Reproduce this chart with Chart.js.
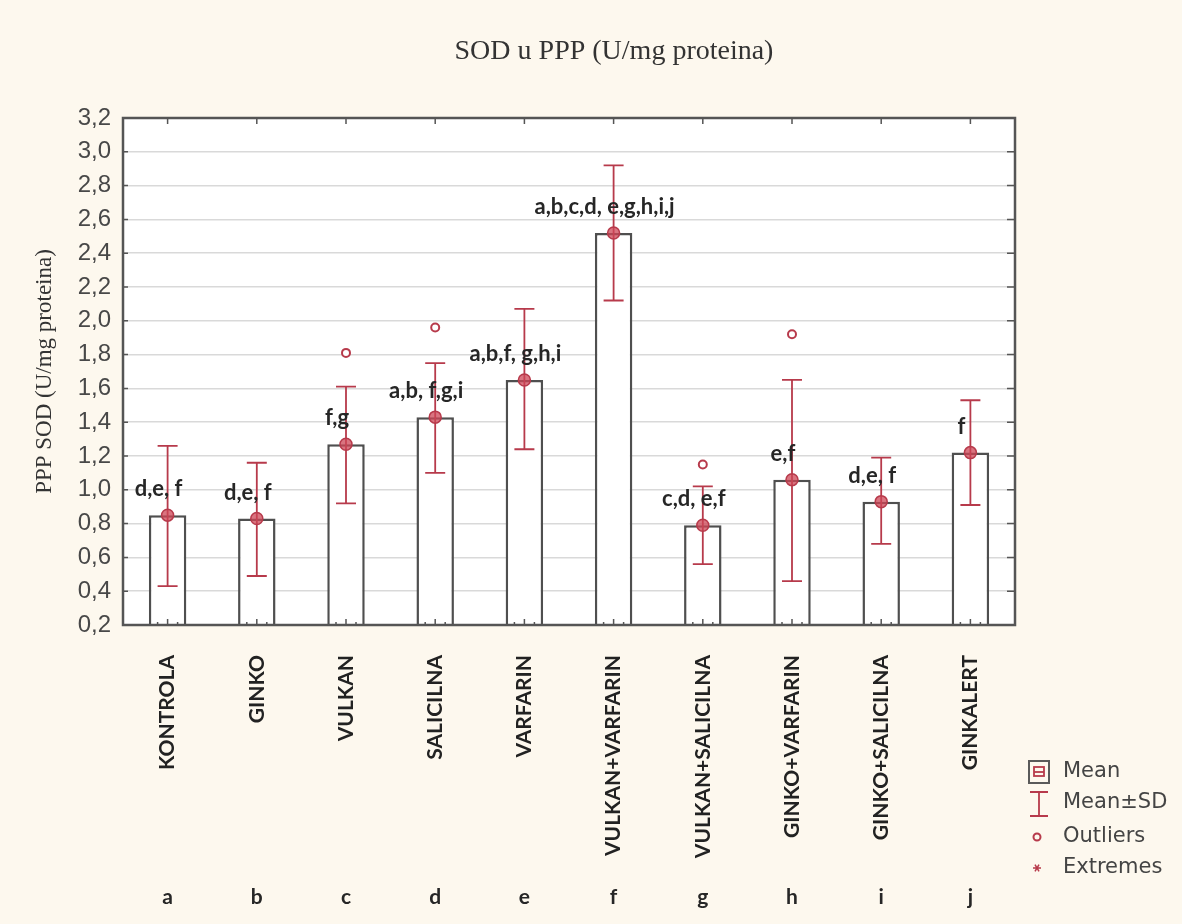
<!DOCTYPE html>
<html>
<head>
<meta charset="utf-8">
<title>SOD u PPP</title>
<script src="https://cdn.jsdelivr.net/npm/chart.js@4.4.1/dist/chart.umd.min.js"></script>
<style>
  html, body { margin: 0; padding: 0; background: #fdf8ee; }
  #wrap { width: 1182px; height: 924px; }
</style>
</head>
<body>
<div id="wrap"><canvas id="sodChart" width="1182" height="924"></canvas></div>
<script>
// data
const categories = ['KONTROLA', 'GINKO', 'VULKAN', 'SALICILNA', 'VARFARIN',
    'VULKAN+VARFARIN', 'VULKAN+SALICILNA', 'GINKO+VARFARIN', 'GINKO+SALICILNA', 'GINKALERT'];
const groupLetters = ['a', 'b', 'c', 'd', 'e', 'f', 'g', 'h', 'i', 'j'];
const means = [0.85, 0.83, 1.27, 1.43, 1.65, 2.52, 0.79, 1.06, 0.93, 1.22];
const sdLow = [0.43, 0.49, 0.92, 1.10, 1.24, 2.12, 0.56, 0.46, 0.68, 0.91];
const sdHigh = [1.26, 1.16, 1.61, 1.75, 2.07, 2.92, 1.02, 1.65, 1.19, 1.53];
const outliers = [null, null, 1.81, 1.96, null, null, 1.15, 1.92, null, null];
const sigLetters = ['d,e, f', 'd,e, f', 'f,g', 'a,b, f,g,i', 'a,b,f, g,h,i',
    'a,b,c,d, e,g,h,i,j', 'c,d, e,f', 'e,f', 'd,e, f', 'f'];
const yTicks = [0.2, 0.4, 0.6, 0.8, 1.0, 1.2, 1.4, 1.6, 1.8, 2.0, 2.2, 2.4, 2.6, 2.8, 3.0, 3.2];

const RED = '#b73a4b';
const DARK = '#4f4f4f';
const BG = '#fdf8ee';

const fmt = v => v.toFixed(1).replace('.', ',');

const sodPlugin = {
    id: 'sodExtras',
    beforeDraw(chart) {
        const { ctx, chartArea: a } = chart;
        ctx.save();
        ctx.fillStyle = BG;
        ctx.fillRect(0, 0, chart.width, chart.height);
        ctx.fillStyle = '#ffffff';
        ctx.fillRect(a.left, a.top, a.right - a.left, a.bottom - a.top);
        ctx.restore();
    },
    afterDatasetsDraw(chart) {
        const { ctx } = chart;
        const xs = chart.scales.x, ys = chart.scales.y;
        ctx.save();
        // mean +- SD whiskers
        ctx.strokeStyle = RED;
        ctx.lineWidth = 1.8;
        means.forEach((m, i) => {
            const x = xs.getPixelForValue(i);
            const yHi = ys.getPixelForValue(sdHigh[i]);
            const yLo = ys.getPixelForValue(sdLow[i]);
            ctx.beginPath();
            ctx.moveTo(x, yHi); ctx.lineTo(x, yLo);
            ctx.moveTo(x - 10, yHi); ctx.lineTo(x + 10, yHi);
            ctx.moveTo(x - 10, yLo); ctx.lineTo(x + 10, yLo);
            ctx.stroke();
        });
        // mean markers
        means.forEach((m, i) => {
            const x = xs.getPixelForValue(i);
            const y = ys.getPixelForValue(m);
            ctx.beginPath();
            ctx.arc(x, y, 6, 0, Math.PI * 2);
            ctx.fillStyle = 'rgba(205, 70, 85, 0.75)';
            ctx.fill();
            ctx.lineWidth = 1.5;
            ctx.strokeStyle = RED;
            ctx.stroke();
        });
        ctx.restore();
    },
    afterDraw(chart) {
        const { ctx, chartArea: a } = chart;
        const xs = chart.scales.x, ys = chart.scales.y;
        ctx.save();

        // frame and inner ticks
        ctx.strokeStyle = '#555555';
        ctx.lineWidth = 2.5;
        ctx.strokeRect(a.left, a.top, a.right - a.left, a.bottom - a.top);
        ctx.lineWidth = 1.5;
        ctx.beginPath();
        yTicks.forEach(v => {
            const y = ys.getPixelForValue(v);
            ctx.moveTo(a.right, y); ctx.lineTo(a.right - 8, y);
            ctx.moveTo(a.left, y); ctx.lineTo(a.left + 5, y);
        });
        categories.forEach((c, i) => {
            const x = xs.getPixelForValue(i);
            ctx.moveTo(x, a.top); ctx.lineTo(x, a.top + 6);
            ctx.moveTo(x, a.bottom); ctx.lineTo(x, a.bottom - 6);
            ctx.moveTo(x - 10, a.bottom); ctx.lineTo(x - 10, a.bottom - 3);
            ctx.moveTo(x + 10, a.bottom); ctx.lineTo(x + 10, a.bottom - 3);
        });
        ctx.stroke();

        // title
        ctx.fillStyle = '#333333';
        ctx.font = '28px "Liberation Serif", "Times New Roman", serif';
        ctx.textAlign = 'center';
        ctx.textBaseline = 'middle';
        ctx.fillText('SOD u PPP (U/mg proteina)', 614, 52);

        // significance letters above the bars
        ctx.font = 'bold 22px Lato, "Open Sans", sans-serif';
        ctx.fillStyle = '#262626';
        sigLetters.forEach((t, i) => {
            const x = xs.getPixelForValue(i) - 9;
            const y = ys.getPixelForValue(means[i]) - 26;
            ctx.fillText(t, x, y);
        });

        // group letters under the category names
        ctx.font = 'bold 21px Lato, "Open Sans", sans-serif';
        groupLetters.forEach((g, i) => {
            ctx.fillText(g, xs.getPixelForValue(i), 897);
        });

        // legend
        const lx = 1039;
        ctx.font = '21px "DejaVu Sans", sans-serif';
        ctx.textAlign = 'left';
        ctx.fillStyle = '#444444';
        ctx.fillText('Mean', 1063, 772);
        ctx.fillText('Mean\u00b1SD', 1063, 803);
        ctx.fillText('Outliers', 1063, 837);
        ctx.fillText('Extremes', 1063, 868);

        ctx.strokeStyle = '#5a5a5a';
        ctx.lineWidth = 2;
        ctx.strokeRect(lx - 10, 761, 20, 22);
        ctx.strokeStyle = RED;
        ctx.lineWidth = 1.8;
        ctx.strokeRect(lx - 5, 767, 10, 9);
        ctx.beginPath();
        ctx.moveTo(lx - 5, 772); ctx.lineTo(lx + 5, 772);
        ctx.stroke();

        ctx.strokeStyle = RED;
        ctx.beginPath();
        ctx.moveTo(lx - 9, 792); ctx.lineTo(lx + 9, 792);
        ctx.moveTo(lx, 792); ctx.lineTo(lx, 816);
        ctx.moveTo(lx - 9, 816); ctx.lineTo(lx + 9, 816);
        ctx.stroke();

        ctx.lineWidth = 2;
        ctx.beginPath();
        ctx.arc(lx - 2, 837, 3.5, 0, Math.PI * 2);
        ctx.stroke();

        ctx.lineWidth = 1.5;
        ctx.beginPath();
        for (let k = 0; k < 3; k++) {
            const ang = k * Math.PI / 3;
            ctx.moveTo(lx - 2 - 4 * Math.cos(ang), 868 - 4 * Math.sin(ang));
            ctx.lineTo(lx - 2 + 4 * Math.cos(ang), 868 + 4 * Math.sin(ang));
        }
        ctx.stroke();

        ctx.restore();
    }
};

const ctx = document.getElementById('sodChart').getContext('2d');
const sodChart = new Chart(ctx, {
    type: 'bar',
    data: {
        labels: categories,
        datasets: [{
            label: 'Mean',
            data: means,
            backgroundColor: '#ffffff',
            borderColor: DARK,
            borderWidth: 2.5,
            borderSkipped: 'bottom',
            barPercentage: 0.42,
            categoryPercentage: 1.0,
            order: 2
        }, {
            type: 'line',
            label: 'Outliers',
            data: outliers,
            showLine: false,
            pointRadius: 4,
            pointHoverRadius: 4,
            pointBorderWidth: 2,
            pointBorderColor: RED,
            pointBackgroundColor: '#ffffff',
            order: 1
        }]
    },
    options: {
        responsive: false,
        animation: false,
        devicePixelRatio: 1,
        layout: { padding: { top: 118, right: 167, bottom: 0, left: 0 } },
        plugins: {
            legend: { display: false },
            tooltip: { enabled: false },
            title: { display: false }
        },
        scales: {
            x: {
                grid: { display: false },
                border: { display: false },
                ticks: {
                    autoSkip: false,
                    minRotation: 90,
                    maxRotation: 90,
                    padding: 22,
                    color: '#222222',
                    font: { family: 'Lato', weight: 'bold', size: 21 }
                },
                afterFit: s => { s.height = 299; }
            },
            y: {
                min: 0.2,
                max: 3.2,
                afterBuildTicks: s => { s.ticks = yTicks.map(v => ({ value: v })); },
                grid: { color: '#d9d9d9', lineWidth: 1.5, drawTicks: false },
                border: { display: false },
                ticks: {
                    padding: 12,
                    color: '#484848',
                    font: { family: 'Liberation Sans', size: 24 },
                    callback: v => fmt(v)
                },
                title: {
                    display: true,
                    text: 'PPP SOD (U/mg proteina)',
                    color: '#333333',
                    font: { family: 'Liberation Serif', size: 23 },
                    padding: { top: 31, bottom: 0 }
                },
                afterFit: s => { s.width = 123; }
            }
        }
    },
    plugins: [sodPlugin]
});
</script>
</body>
</html>
